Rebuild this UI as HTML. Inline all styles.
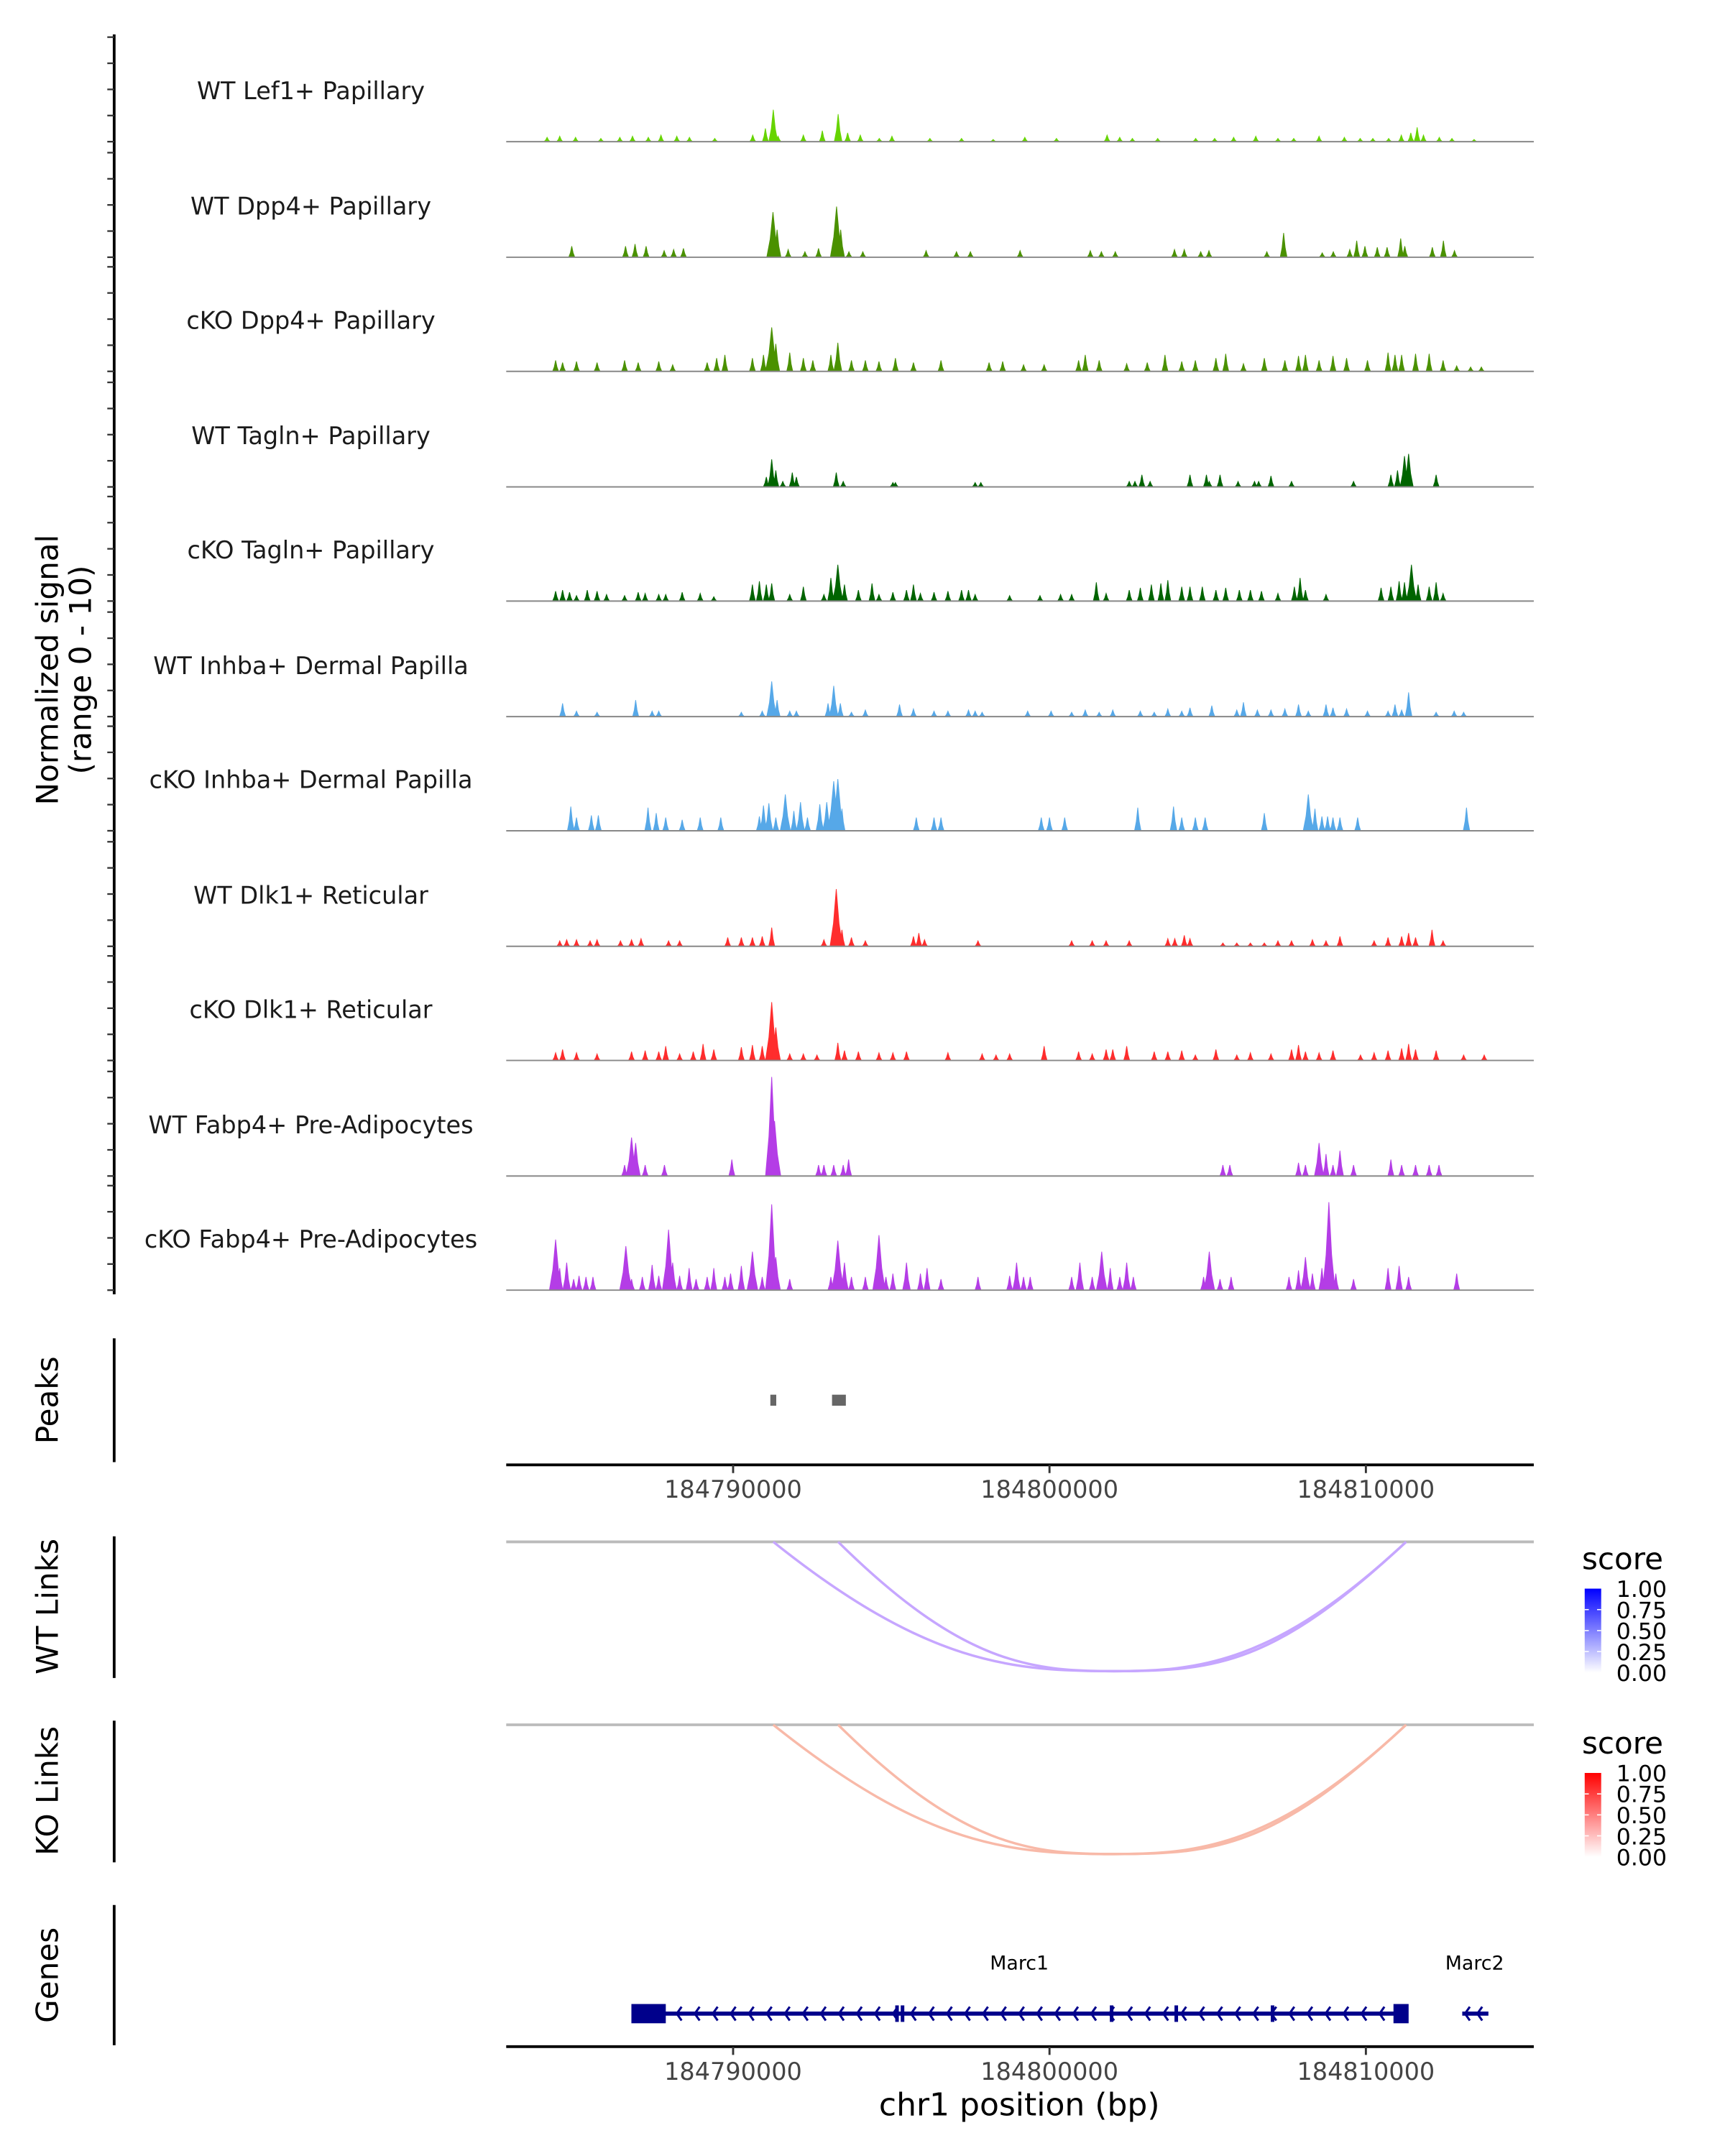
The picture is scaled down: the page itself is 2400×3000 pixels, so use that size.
<!DOCTYPE html>
<html><head><meta charset="utf-8"><style>
html,body{margin:0;padding:0;background:#fff;}
svg{display:block;font-family:"DejaVu Sans","Liberation Sans",sans-serif;}
</style></head><body>
<svg id="chart" width="2400" height="3000" viewBox="0 0 1254 1567.5" xmlns="http://www.w3.org/2000/svg">
<rect width="1254" height="1567.5" fill="#fff"/>
<g id="tracks"></g>
<g id="peaks"></g>
<g id="links"></g>
<g id="genes"></g>
<g id="axes"></g>
</svg>
<script>
// genomic positions in kb relative to ORIGIN
const ORIGIN = 184781220;
const trackNames = ["WT Lef1+ Papillary","WT Dpp4+ Papillary","cKO Dpp4+ Papillary","WT Tagln+ Papillary","cKO Tagln+ Papillary","WT Inhba+ Dermal Papilla","cKO Inhba+ Dermal Papilla","WT Dlk1+ Reticular","cKO Dlk1+ Reticular","WT Fabp4+ Pre-Adipocytes","cKO Fabp4+ Pre-Adipocytes"];
const trackColors = ["#66d400","#4a9100","#4a9100","#006400","#006400","#56a8e8","#56a8e8","#ff2d2d","#ff2d2d","#b43de6","#b43de6"];
const sigLef1 = [[2.9,.4],[3.3,.5],[3.8,.4],[4.6,.3],[5.2,.4],[5.6,.5],[6.1,.4],[6.5,.6],[7.0,.5],[7.4,.4],[8.2,.3],[9.4,.6],[9.8,1.2],[10.05,2.9],[10.2,.5],[11.0,.6],[11.6,1],[12.1,2.5],[12.4,.8],[12.8,.6],[13.4,.3],[13.8,.5],[15,.3],[16,.3],[17,.2],[18,.4],[19,.3],[20.6,.6],[21,.4],[21.4,.3],[22.2,.3],[23.4,.3],[24,.3],[24.6,.4],[25.3,.5],[26,.3],[26.5,.3],[27.3,.5],[28.1,.4],[28.6,.3],[29,.3],[29.5,.3],[29.9,.6],[30.2,.8],[30.4,1.3],[30.6,.6],[31.1,.4],[31.5,.3],[32.2,.2]];
const sigWtDpp4 = [[3.68,1],[5.38,1],[5.68,1.2],[6.03,1],[6.6,.6],[6.9,.7],[7.21,.8],[10.04,4.1],[10.17,2.5],[10.52,.7],[11.05,.5],[11.48,.8],[12.05,4.6],[12.18,2.5],[12.44,.5],[12.88,.5],[14.88,.6],[15.84,.5],[16.28,.5],[17.85,.6],[20.07,.6],[20.42,.5],[20.86,.5],[22.73,.7],[23.04,.7],[23.56,.5],[23.82,.6],[25.65,.5],[26.18,2.2],[27.4,.4],[27.75,.5],[28.27,.7],[28.49,1.5],[28.75,1],[29.14,.9],[29.45,.9],[29.88,1.7],[30.01,1],[30.88,.9],[31.23,1.5],[31.58,.6]];
const sigKoDpp4 = [[3.17,1],[3.39,.8],[3.83,.9],[4.48,.8],[5.35,1],[5.78,.8],[6.43,.9],[6.87,.6],[7.96,.8],[8.26,1.2],[8.52,1.5],[9.39,1.2],[9.74,1.5],[10,4],[10.13,2.5],[10.57,1.7],[11,1.2],[11.3,1],[11.87,1.5],[12.09,2.6],[12.52,1],[12.96,1],[13.39,.9],[13.91,1.2],[14.48,.8],[15.35,1],[16.87,.8],[17.3,.9],[17.96,.6],[18.61,.6],[19.7,1],[19.91,1.5],[20.35,1],[21.22,.7],[21.87,.8],[22.43,1.5],[22.96,.9],[23.39,1],[24.04,1.2],[24.35,1.6],[24.91,.7],[25.57,1.2],[26.22,1],[26.65,1.4],[26.87,1.5],[27.3,1],[27.74,1.4],[28.17,1.2],[28.83,1],[29.48,1.7],[29.7,1.5],[29.91,1.5],[30.35,1.6],[30.78,1.6],[31.22,1],[31.65,.5],[32.09,.4],[32.43,.4]];
const sigWtTagln = [[9.83,.9],[10,2.5],[10.13,1.5],[10.35,.5],[10.65,1.3],[10.78,.9],[12.04,1.3],[12.26,.5],[13.83,.4],[13.91,.4],[16.43,.4],[16.61,.4],[21.3,.5],[21.48,.5],[21.7,1.1],[21.96,.5],[23.22,1.1],[23.74,1.1],[23.83,.5],[24.17,1.1],[24.74,.5],[25.26,.5],[25.39,.5],[25.78,1],[26.43,.5],[28.39,.5],[29.57,1.1],[29.78,1.5],[30,2.8],[30.13,3],[31,1.1]];
const sigKoTagln = [[3.17,.9],[3.39,1],[3.61,.8],[3.83,.5],[4.17,1],[4.48,.9],[4.78,.6],[5.35,.5],[5.78,.8],[6,.7],[6.43,.6],[6.65,.6],[7.17,.8],[7.74,.7],[8.17,.4],[9.39,1.5],[9.61,1.8],[9.83,1.5],[10,1.6],[10.57,.6],[11,1.3],[11.65,.6],[11.87,2.1],[12.09,3.3],[12.3,1.5],[12.74,1],[13.17,1.6],[13.39,.6],[13.83,.8],[14.26,1],[14.48,1.5],[14.7,.7],[15.13,.8],[15.57,.9],[16,1],[16.22,1],[16.43,.6],[17.52,.5],[18.48,.5],[19.13,.6],[19.48,.6],[20.26,1.7],[20.57,.7],[21.3,1],[21.65,1.2],[22,1.5],[22.3,1.6],[22.52,1.9],[22.96,1.3],[23.22,1.3],[23.61,1.3],[24.04,1],[24.35,1.2],[24.78,1],[25.13,1],[25.48,.9],[26,.7],[26.52,1.3],[26.7,2.1],[26.87,1],[27.52,.6],[29.26,1.2],[29.57,1.3],[29.83,1.8],[30,1.7],[30.22,3.3],[30.43,1.5],[30.78,1.3],[31,1.7],[31.22,.7]];
const sigWtInhba = [[3.39,1.2],[3.83,.5],[4.48,.4],[5.7,1.5],[6.22,.5],[6.43,.5],[9.04,.4],[9.7,.5],[10,3.2],[10.17,1.5],[10.57,.5],[10.78,.5],[11.78,1.2],[11.96,2.8],[12.17,1.2],[12.52,.4],[12.96,.6],[14.04,1.1],[14.48,.7],[15.13,.5],[15.57,.5],[16.22,.6],[16.43,.5],[16.65,.4],[18.09,.5],[18.83,.5],[19.48,.4],[19.91,.6],[20.35,.4],[20.78,.6],[21.65,.5],[22.09,.4],[22.52,.7],[22.96,.5],[23.22,.8],[23.91,1],[24.7,.6],[24.91,1.3],[25.35,.6],[25.78,.6],[26.22,.7],[26.65,1.1],[26.96,.5],[27.52,1.1],[27.74,.8],[28.17,.7],[28.83,.5],[29.48,.5],[29.7,1.1],[29.91,.6],[30.13,2.2],[31,.4],[31.57,.5],[31.87,.4]];
const sigKoInhba = [[3.65,2.2],[3.83,1.2],[4.3,1.4],[4.52,1.4],[6.09,2.1],[6.35,1.6],[6.65,1.2],[7.17,1],[7.74,1.2],[8.39,1.2],[9.61,1.3],[9.74,2.3],[9.91,2.5],[10.13,1.2],[10.43,3.3],[10.7,1.8],[10.91,2.6],[11.13,1.2],[11.52,2.4],[11.74,2.6],[11.96,4.5],[12.09,4.7],[12.22,2],[14.57,1.2],[15.13,1.2],[15.35,1.2],[18.52,1.2],[18.78,1.2],[19.26,1.2],[21.57,2.1],[22.7,2.2],[22.96,1.2],[23.39,1.2],[23.7,1.2],[25.57,1.6],[26.96,3.3],[27.17,2],[27.39,1.3],[27.57,1.3],[27.74,1.2],[27.96,1.2],[28.52,1.2],[31.96,2.1]];
const sigWtDlk1 = [[3.3,.5],[3.52,.6],[3.83,.6],[4.26,.5],[4.48,.6],[5.22,.5],[5.57,.6],[5.87,.7],[6.74,.5],[7.09,.5],[8.61,.8],[9.04,.8],[9.39,.8],[9.7,.9],[10,1.7],[11.65,.6],[12.04,5.2],[12.22,1.5],[12.52,.8],[12.96,.5],[14.48,.9],[14.65,1.2],[14.83,.6],[16.52,.5],[19.48,.5],[20.13,.5],[20.57,.5],[21.3,.5],[22.52,.7],[22.74,.7],[23.04,1],[23.22,.7],[24.26,.3],[24.7,.3],[25.13,.3],[25.57,.3],[26,.5],[26.43,.5],[27.09,.6],[27.52,.5],[27.96,.9],[29.04,.5],[29.48,.8],[29.91,.9],[30.13,1.2],[30.35,.8],[30.87,1.5],[31.22,.5]];
const sigKoDlk1 = [[3.17,.7],[3.39,1],[3.83,.7],[4.48,.6],[5.57,.8],[6,.9],[6.43,.8],[6.65,1.3],[7.09,.6],[7.52,.8],[7.83,1.5],[8.17,1],[9.04,1.2],[9.39,1.4],[9.7,1.3],[10,5.3],[10.13,3],[10.57,.6],[11,.6],[11.43,.5],[12.09,1.6],[12.3,.9],[12.74,.8],[13.39,.7],[13.83,.7],[14.26,.8],[15.57,.7],[16.65,.6],[17.09,.5],[17.52,.6],[18.61,1.3],[19.7,.8],[20.13,.6],[20.57,1],[20.78,1],[21.22,1.3],[22.09,.8],[22.52,.8],[22.96,.9],[23.39,.5],[24.04,1],[24.7,.5],[25.13,.7],[25.78,.6],[26.43,1],[26.65,1.4],[26.87,.8],[27.3,.7],[27.74,.9],[28.61,.5],[29.04,.7],[29.48,.9],[29.91,1.1],[30.13,1.5],[30.35,1],[31,.9],[31.87,.5],[32.52,.5]];
const sigWtFabp4 = [[5.35,1],[5.57,3.5],[5.7,3],[6,1],[6.61,1],[8.74,1.5],[10,9],[10.09,5],[11.48,1],[11.65,1],[11.96,1],[12.26,1],[12.43,1.5],[24.26,1],[24.48,1],[26.65,1.2],[26.87,1],[27.3,3],[27.52,2],[27.74,1],[27.96,2.3],[28.39,1],[29.57,1.5],[29.91,1],[30.35,1],[30.78,1],[31.09,1]];
const sigKoFabp4 = [[3.17,4.6],[3.3,2],[3.52,2.5],[3.74,1],[3.91,1.3],[4.13,1.2],[4.35,1.2],[5.39,4],[5.57,1],[5.91,1.2],[6.22,2.3],[6.43,1.3],[6.74,5.5],[6.87,2.5],[7.09,1.3],[7.39,2],[7.61,1],[7.96,1.2],[8.17,2],[8.52,1.2],[8.7,1.5],[9.04,2.2],[9.39,3.5],[9.7,1.2],[10,7.8],[10.13,3],[10.57,1],[11.87,1.2],[12.09,4.5],[12.3,2.5],[12.52,1.2],[12.96,1.2],[13.39,5],[13.61,1.2],[13.83,1.5],[14.26,2.5],[14.7,1.5],[14.91,2],[15.35,1],[16.52,1.2],[17.52,1.3],[17.74,2.5],[17.96,1.2],[18.17,1.2],[19.48,1.2],[19.74,2.5],[20.13,1.2],[20.43,3.5],[20.7,2],[21,1.2],[21.22,2.5],[21.43,1.2],[23.65,1.2],[23.83,3.5],[24.17,1],[24.52,1.2],[26.35,1.2],[26.65,1.8],[26.87,3],[27.09,1.5],[27.39,2],[27.61,8],[27.83,1.5],[28.39,1],[29.48,2],[29.83,2.2],[30.13,1.2],[31.65,1.5]];
const signals = [sigLef1,sigWtDpp4,sigKoDpp4,sigWtTagln,sigKoTagln,sigWtInhba,sigKoInhba,sigWtDlk1,sigKoDlk1,sigWtFabp4,sigKoFabp4];
const peakRegions = [[10.0,10.1],[11.95,12.3]];
const wtLinks = [[10.05,30.05],[12.1,30.05]];
const koLinks = [[10.05,30.05],[12.1,30.05]];
const xTickValues = [184790000,184800000,184810000];
const xTickLabels = ["184790000","184800000","184810000"];
const legendTicks = ["1.00","0.75","0.50","0.25","0.00"];

const NS = "http://www.w3.org/2000/svg";
const X0 = 368, X1 = 1115;
function xs(kb){ return 561 + (kb-10)*23; }
function mk(parent, tag, attrs, text){
  const el = document.createElementNS(NS, tag);
  for (const k in attrs) el.setAttribute(k, attrs[k]);
  if (text !== undefined) el.textContent = text;
  parent.appendChild(el);
  return el;
}
const tracksG = document.getElementById('tracks');
const axesG = document.getElementById('axes');
const baselines = [103,187,270,354,437,521,604,688,771,855,938];
const PX_PER_UNIT = 8;

let ax = mk(axesG,'line',{x1:83,y1:25,x2:83,y2:941,stroke:'#000','stroke-width':2});
 
baselines.forEach(b=>{
  for(let k=0;k<5;k++){
    const t = mk(axesG,'line',{x1:78,x2:83,y1:b-k*19,y2:b-k*19,stroke:'#333','stroke-width':1.2});
    
    
  }
});
let yt = mk(axesG,'text',{x:0,y:0,'font-size':22,'text-anchor':'middle',transform:'translate(42,487) rotate(-90)'},'Normalized signal');
 
let yt2 = mk(axesG,'text',{x:0,y:0,'font-size':22,'text-anchor':'middle',transform:'translate(66,487) rotate(-90)'},'(range 0 - 10)');
 

signals.forEach((sig,i)=>{
  const b = baselines[i];
  const g = mk(tracksG,'g',{});
  
  
  const lbl = mk(g,'text',{x:226,y:b-31,'font-size':17.5,'text-anchor':'middle',fill:'#1a1a1a'},trackNames[i]);
  
  
  let d = '';
  sig.forEach(p=>{
    const x = xs(p[0]), h = p[1]*PX_PER_UNIT, w = Math.max(2.2, Math.min(4.5, h*0.14));
    d += `M${(x-w).toFixed(2)},${b} L${(x-w*0.45).toFixed(2)},${(b-h*0.4).toFixed(2)} L${x.toFixed(2)},${(b-h).toFixed(2)} L${(x+w*0.45).toFixed(2)},${(b-h*0.4).toFixed(2)} L${(x+w).toFixed(2)},${b} Z `;
  });
  const path = mk(g,'path',{d:d,fill:trackColors[i],stroke:trackColors[i],'stroke-width':0.5});
  
  
  const bl = mk(g,'line',{x1:X0,x2:X1,y1:b,y2:b,stroke:'#888','stroke-width':1});
  
  
});

const peaksG = document.getElementById('peaks');
let pa = mk(peaksG,'line',{x1:83,y1:973,x2:83,y2:1063,stroke:'#000','stroke-width':2});
 
let pt = mk(peaksG,'text',{'font-size':22,'text-anchor':'middle',transform:'translate(42,1018) rotate(-90)'},'Peaks');
 
peakRegions.forEach(r=>{
  const x1 = xs(r[0]), x2 = xs(r[1]);
  const rc = mk(peaksG,'rect',{x:x1-1,y:1014,width:Math.max(2,x2-x1+2),height:8,fill:'#666'});
  
  
});
function xAxis(y, name){
  const l = mk(axesG,'line',{x1:X0,x2:X1,y1:y,y2:y,stroke:'#000','stroke-width':2});
   
  xTickValues.forEach((v,i)=>{
    const t = (v-ORIGIN)/1000;
    const tk = mk(axesG,'line',{x1:xs(t),x2:xs(t),y1:y,y2:y+6,stroke:'#333','stroke-width':1.5});
     
    const tl = mk(axesG,'text',{x:xs(t),y:y+24,'font-size':17.5,'text-anchor':'middle',fill:'#444'},xTickLabels[i]);
     
  });
}
xAxis(1065,'peaks-x-axis');

const linksG = document.getElementById('links');
function linkPanel(top, bottom, base, title, titleY, links, color, barTop, grad, gradId, panelName){
  const g = mk(linksG,'g',{});
   
  const a = mk(g,'line',{x1:83,y1:top,x2:83,y2:bottom,stroke:'#000','stroke-width':2});
   
  const t = mk(g,'text',{'font-size':22,'text-anchor':'middle',transform:`translate(42,${titleY}) rotate(-90)`},title);
   
  const bl = mk(g,'line',{x1:X0,x2:X1,y1:base,y2:base,stroke:'#bbb','stroke-width':2});
   
  links.forEach(lk=>{
    const a1 = xs(lk[0]), b1 = xs(lk[1]), D = 94;
    const mid = 810;
    const p = mk(g,'path',{d:`M${a1},${base} C${a1+(mid-a1)*0.45},${base+D*0.95} ${mid-(mid-a1)*0.3},${base+D} ${mid},${base+D} S${b1-(b1-mid)*0.45},${base+D*0.95} ${b1},${base}`,fill:'none',stroke:color,'stroke-width':1.8});
     
  });
  const defs = mk(g,'defs',{});
  const lg = mk(defs,'linearGradient',{id:gradId,x1:0,y1:0,x2:0,y2:1});
  mk(lg,'stop',{offset:'0','stop-color':grad});
  mk(lg,'stop',{offset:'1','stop-color':'#ffffff'});
  const lt = mk(g,'text',{x:1150,y:barTop-14,'font-size':22},'score');
   
  const bar = mk(g,'rect',{x:1152,y:barTop,width:12,height:61,fill:`url(#${gradId})`});
   
  for(let k=1;k<4;k++){
    mk(g,'line',{x1:1152,x2:1155,y1:barTop+k*15.25,y2:barTop+k*15.25,stroke:'#fff','stroke-width':0.8});
    mk(g,'line',{x1:1161,x2:1164,y1:barTop+k*15.25,y2:barTop+k*15.25,stroke:'#fff','stroke-width':0.8});
  }
  legendTicks.forEach((s,i)=>{
    const tx = mk(g,'text',{x:1175,y:barTop+6+i*15.3,'font-size':16.5},s);
     
  });
}
linkPanel(1117,1220,1121,'WT Links',1168,wtLinks,'#c6a6ff',1155,'#0000ff','gB','wt-links-panel');
linkPanel(1251,1354,1254,'KO Links',1302,koLinks,'#f8b9a8',1289,'#ff0000','gR','ko-links-panel');

const genesG = document.getElementById('genes');
const gy = 1464, nv = '#00008b';
let ga = mk(genesG,'line',{x1:83,y1:1385,x2:83,y2:1487,stroke:'#000','stroke-width':2});
 
let gt = mk(genesG,'text',{'font-size':22,'text-anchor':'middle',transform:'translate(42,1436) rotate(-90)'},'Genes');
 
const marc1 = mk(genesG,'g',{});
 
mk(marc1,'line',{x1:460,x2:1020,y1:gy,y2:gy,stroke:nv,'stroke-width':3});
mk(marc1,'rect',{x:459,y:1457,width:25,height:14,fill:nv});
mk(marc1,'rect',{x:1013,y:1457,width:11,height:14,fill:nv});
[652,656,808,855,925].forEach(x=>mk(marc1,'rect',{x:x-1.2,y:1458,width:2.6,height:12,fill:nv}));
for(let x=492;x<1010;x+=13.1){
  mk(marc1,'polyline',{points:`${x+3.5},${gy-5} ${x},${gy} ${x+3.5},${gy+5}`,fill:'none',stroke:nv,'stroke-width':1.6});
}
mk(marc1,'text',{x:741,y:1432,'font-size':14,'text-anchor':'middle'},'Marc1');
const marc2 = mk(genesG,'g',{});
 
mk(marc2,'line',{x1:1063,x2:1082,y1:gy,y2:gy,stroke:nv,'stroke-width':3});
[1065,1074].forEach(x=>mk(marc2,'polyline',{points:`${x+3.5},${gy-5} ${x},${gy} ${x+3.5},${gy+5}`,fill:'none',stroke:nv,'stroke-width':1.6}));
mk(marc2,'text',{x:1072,y:1432,'font-size':14,'text-anchor':'middle'},'Marc2');
xAxis(1488,'genes-x-axis');
let xt = mk(axesG,'text',{x:741,y:1538,'font-size':23,'text-anchor':'middle'},'chr1 position (bp)');
 
</script>
</body></html>
